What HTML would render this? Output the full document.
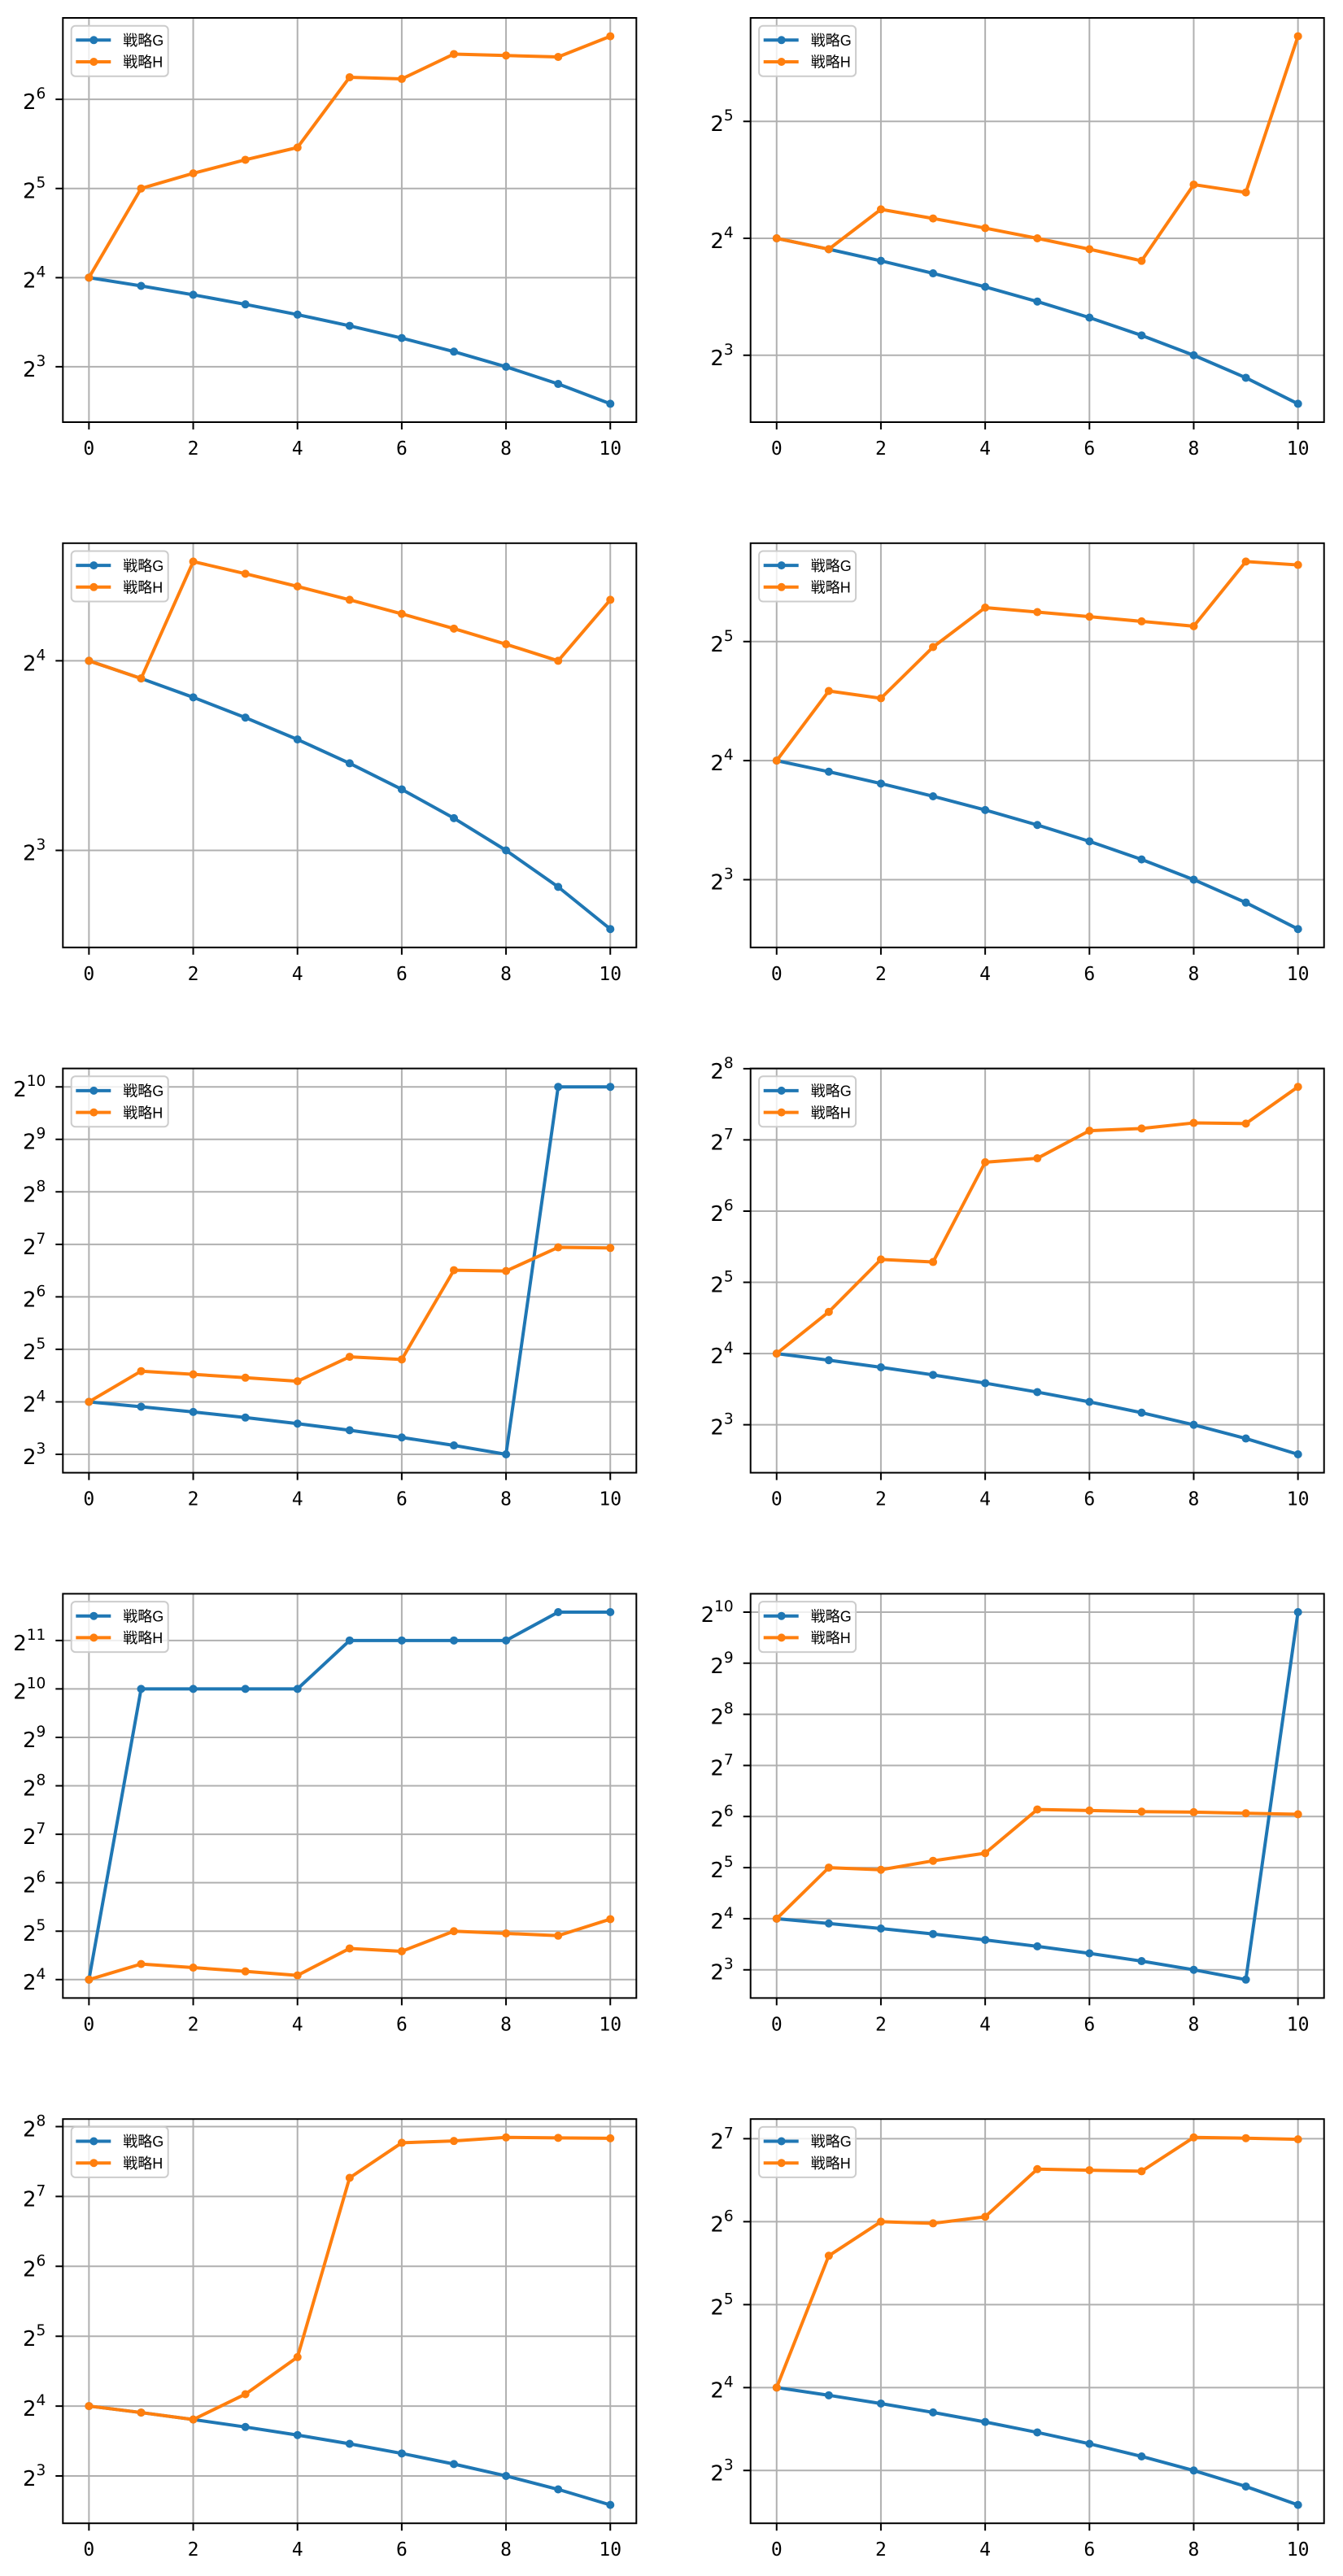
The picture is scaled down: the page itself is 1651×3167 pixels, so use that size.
<!DOCTYPE html>
<html><head><meta charset="utf-8">
<style>
html,body{margin:0;padding:0;background:#fff;}
svg{display:block;}
.g{stroke:#b0b0b0;stroke-width:2;fill:none;}
.sp{fill:none;stroke:#000;stroke-width:2;}
.tk{stroke:#000;stroke-width:2;fill:none;}
.l{fill:none;stroke-width:4;stroke-linejoin:round;stroke-linecap:round;}
.m{fill:none;stroke-width:10;stroke-linecap:round;}
.b{stroke:#1f77b4;}
.o{stroke:#ff7f0e;}
.xt text{font-family:"DejaVu Sans Mono","Liberation Mono",monospace;font-size:23px;text-anchor:middle;fill:#000;}
.yt text{font-family:"DejaVu Sans","Liberation Sans",sans-serif;font-size:26px;text-anchor:end;fill:#000;}
.yt tspan{font-size:18.5px;}
.lg text{font-family:"Liberation Sans","Noto Sans CJK JP",sans-serif;font-size:18px;fill:#000;}
</style></head>
<body>
<svg width="1651" height="3167" viewBox="0 0 1651 3167" xmlns="http://www.w3.org/2000/svg">
<rect width="1651" height="3167" fill="#fff"/>

<!-- ================= P1 (row0 col1) ================= -->
<path class="g" d="M109.35 22V519M237.53 22V519M365.71 22V519M493.89 22V519M622.07 22V519M750.25 22V519M77.3 450.92H782.3M77.3 341.32H782.3M77.3 231.72H782.3M77.3 122.12H782.3"/>
<g transform="matrix(64.09 0 0 -109.6 109.35 779.72)">
<polyline class="l b" vector-effect="non-scaling-stroke" points="0,4 1,3.9069 2,3.8074 3,3.7004 4,3.585 5,3.4594 6,3.3219 7,3.1699 8,3 9,2.8074 10,2.585"/>
<path class="m b" vector-effect="non-scaling-stroke" d="M0 4h0.001M1 3.9069h0.001M2 3.8074h0.001M3 3.7004h0.001M4 3.585h0.001M5 3.4594h0.001M6 3.3219h0.001M7 3.1699h0.001M8 3h0.001M9 2.8074h0.001M10 2.585h0.001"/>
<polyline class="l o" vector-effect="non-scaling-stroke" points="0,4 1,5 2,5.1699 3,5.3219 4,5.4594 5,6.2479 6,6.2288 7,6.5078 8,6.4919 9,6.4757 10,6.7074"/>
<path class="m o" vector-effect="non-scaling-stroke" d="M0 4h0.001M1 5h0.001M2 5.1699h0.001M3 5.3219h0.001M4 5.4594h0.001M5 6.2479h0.001M6 6.2288h0.001M7 6.5078h0.001M8 6.4919h0.001M9 6.4757h0.001M10 6.7074h0.001"/>
</g>
<g class="lg" transform="translate(77.3 22)">
<rect x="10.4" y="9.7" width="119" height="62" rx="5" fill="#fff" fill-opacity="0.8" stroke="#cccccc" stroke-width="2"/>
<line x1="16" x2="59" y1="27.3" y2="27.3" stroke="#1f77b4" stroke-width="4"/><circle cx="38" cy="27.3" r="5" fill="#1f77b4"/>
<text x="74" y="34">戦略G</text>
<line x1="16" x2="59" y1="54" y2="54" stroke="#ff7f0e" stroke-width="4"/><circle cx="38" cy="54" r="5" fill="#ff7f0e"/>
<text x="74" y="60.7">戦略H</text>
</g>
<rect class="sp" x="77.3" y="22" width="705" height="497"/>
<path class="tk" d="M109.35 519v9M237.53 519v9M365.71 519v9M493.89 519v9M622.07 519v9M750.25 519v9M68.3 450.92h9M68.3 341.32h9M68.3 231.72h9M68.3 122.12h9"/>
<g class="xt"><text x="109.35" y="559">0</text><text x="237.53" y="559">2</text><text x="365.71" y="559">4</text><text x="493.89" y="559">6</text><text x="622.07" y="559">8</text><text x="750.25" y="559">10</text></g>
<g class="yt"><text x="56.3" y="462.92">2<tspan dy="-13">3</tspan></text><text x="56.3" y="353.32">2<tspan dy="-13">4</tspan></text><text x="56.3" y="243.72">2<tspan dy="-13">5</tspan></text><text x="56.3" y="134.12">2<tspan dy="-13">6</tspan></text></g>

<!-- ================= P2 (row0 col2) ================= -->
<path class="g" d="M954.75 22V519M1082.93 22V519M1211.11 22V519M1339.29 22V519M1467.47 22V519M1595.65 22V519M922.7 436.75H1627.7M922.7 292.99H1627.7M922.7 149.23H1627.7"/>
<g transform="matrix(64.09 0 0 -143.76 954.75 868.03)">
<polyline class="l b" vector-effect="non-scaling-stroke" points="0,4 1,3.9069 2,3.8074 3,3.7004 4,3.585 5,3.4594 6,3.3219 7,3.1699 8,3 9,2.8074 10,2.585"/>
<path class="m b" vector-effect="non-scaling-stroke" d="M0 4h0.001M1 3.9069h0.001M2 3.8074h0.001M3 3.7004h0.001M4 3.585h0.001M5 3.4594h0.001M6 3.3219h0.001M7 3.1699h0.001M8 3h0.001M9 2.8074h0.001M10 2.585h0.001"/>
<polyline class="l o" vector-effect="non-scaling-stroke" points="0,4 1,3.9069 2,4.2479 3,4.1699 4,4.0875 5,4 6,3.9069 7,3.8074 8,4.4594 9,4.3923 10,5.7279"/>
<path class="m o" vector-effect="non-scaling-stroke" d="M0 4h0.001M1 3.9069h0.001M2 4.2479h0.001M3 4.1699h0.001M4 4.0875h0.001M5 4h0.001M6 3.9069h0.001M7 3.8074h0.001M8 4.4594h0.001M9 4.3923h0.001M10 5.7279h0.001"/>
</g>
<g class="lg" transform="translate(922.7 22)">
<rect x="10.4" y="9.7" width="119" height="62" rx="5" fill="#fff" fill-opacity="0.8" stroke="#cccccc" stroke-width="2"/>
<line x1="16" x2="59" y1="27.3" y2="27.3" stroke="#1f77b4" stroke-width="4"/><circle cx="38" cy="27.3" r="5" fill="#1f77b4"/>
<text x="74" y="34">戦略G</text>
<line x1="16" x2="59" y1="54" y2="54" stroke="#ff7f0e" stroke-width="4"/><circle cx="38" cy="54" r="5" fill="#ff7f0e"/>
<text x="74" y="60.7">戦略H</text>
</g>
<rect class="sp" x="922.7" y="22" width="705" height="497"/>
<path class="tk" d="M954.75 519v9M1082.93 519v9M1211.11 519v9M1339.29 519v9M1467.47 519v9M1595.65 519v9M913.7 436.75h9M913.7 292.99h9M913.7 149.23h9"/>
<g class="xt"><text x="954.75" y="559">0</text><text x="1082.93" y="559">2</text><text x="1211.11" y="559">4</text><text x="1339.29" y="559">6</text><text x="1467.47" y="559">8</text><text x="1595.65" y="559">10</text></g>
<g class="yt"><text x="901.7" y="448.75">2<tspan dy="-13">3</tspan></text><text x="901.7" y="304.99">2<tspan dy="-13">4</tspan></text><text x="901.7" y="161.23">2<tspan dy="-13">5</tspan></text></g>

<!-- ================= P3 (row1 col1) ================= -->
<path class="g" d="M109.35 667.8V1164.8M237.53 667.8V1164.8M365.71 667.8V1164.8M493.89 667.8V1164.8M622.07 667.8V1164.8M750.25 667.8V1164.8M77.3 1045.49H782.3M77.3 812.43H782.3"/>
<g transform="matrix(64.09 0 0 -233.06 109.35 1744.67)">
<polyline class="l b" vector-effect="non-scaling-stroke" points="0,4 1,3.9069 2,3.8074 3,3.7004 4,3.585 5,3.4594 6,3.3219 7,3.1699 8,3 9,2.8074 10,2.585"/>
<path class="m b" vector-effect="non-scaling-stroke" d="M0 4h0.001M1 3.9069h0.001M2 3.8074h0.001M3 3.7004h0.001M4 3.585h0.001M5 3.4594h0.001M6 3.3219h0.001M7 3.1699h0.001M8 3h0.001M9 2.8074h0.001M10 2.585h0.001"/>
<polyline class="l o" vector-effect="non-scaling-stroke" points="0,4 1,3.9069 2,4.5236 3,4.4594 4,4.3923 5,4.3219 6,4.2479 7,4.1699 8,4.0875 9,4 10,4.3219"/>
<path class="m o" vector-effect="non-scaling-stroke" d="M0 4h0.001M1 3.9069h0.001M2 4.5236h0.001M3 4.4594h0.001M4 4.3923h0.001M5 4.3219h0.001M6 4.2479h0.001M7 4.1699h0.001M8 4.0875h0.001M9 4h0.001M10 4.3219h0.001"/>
</g>
<g class="lg" transform="translate(77.3 667.8)">
<rect x="10.4" y="9.7" width="119" height="62" rx="5" fill="#fff" fill-opacity="0.8" stroke="#cccccc" stroke-width="2"/>
<line x1="16" x2="59" y1="27.3" y2="27.3" stroke="#1f77b4" stroke-width="4"/><circle cx="38" cy="27.3" r="5" fill="#1f77b4"/>
<text x="74" y="34">戦略G</text>
<line x1="16" x2="59" y1="54" y2="54" stroke="#ff7f0e" stroke-width="4"/><circle cx="38" cy="54" r="5" fill="#ff7f0e"/>
<text x="74" y="60.7">戦略H</text>
</g>
<rect class="sp" x="77.3" y="667.8" width="705" height="497"/>
<path class="tk" d="M109.35 1164.8v9M237.53 1164.8v9M365.71 1164.8v9M493.89 1164.8v9M622.07 1164.8v9M750.25 1164.8v9M68.3 1045.49h9M68.3 812.43h9"/>
<g class="xt"><text x="109.35" y="1204.8">0</text><text x="237.53" y="1204.8">2</text><text x="365.71" y="1204.8">4</text><text x="493.89" y="1204.8">6</text><text x="622.07" y="1204.8">8</text><text x="750.25" y="1204.8">10</text></g>
<g class="yt"><text x="56.3" y="1057.49">2<tspan dy="-13">3</tspan></text><text x="56.3" y="824.43">2<tspan dy="-13">4</tspan></text></g>

<!-- ================= P4 (row1 col2) ================= -->
<path class="g" d="M954.75 667.8V1164.8M1082.93 667.8V1164.8M1211.11 667.8V1164.8M1339.29 667.8V1164.8M1467.47 667.8V1164.8M1595.65 667.8V1164.8M922.7 1081.47H1627.7M922.7 935.13H1627.7M922.7 788.79H1627.7"/>
<g transform="matrix(64.09 0 0 -146.34 954.75 1520.49)">
<polyline class="l b" vector-effect="non-scaling-stroke" points="0,4 1,3.9069 2,3.8074 3,3.7004 4,3.585 5,3.4594 6,3.3219 7,3.1699 8,3 9,2.8074 10,2.585"/>
<path class="m b" vector-effect="non-scaling-stroke" d="M0 4h0.001M1 3.9069h0.001M2 3.8074h0.001M3 3.7004h0.001M4 3.585h0.001M5 3.4594h0.001M6 3.3219h0.001M7 3.1699h0.001M8 3h0.001M9 2.8074h0.001M10 2.585h0.001"/>
<polyline class="l o" vector-effect="non-scaling-stroke" points="0,4 1,4.585 2,4.5236 3,4.9542 4,5.2854 5,5.2479 6,5.2095 7,5.1699 8,5.1293 9,5.6724 10,5.6439"/>
<path class="m o" vector-effect="non-scaling-stroke" d="M0 4h0.001M1 4.585h0.001M2 4.5236h0.001M3 4.9542h0.001M4 5.2854h0.001M5 5.2479h0.001M6 5.2095h0.001M7 5.1699h0.001M8 5.1293h0.001M9 5.6724h0.001M10 5.6439h0.001"/>
</g>
<g class="lg" transform="translate(922.7 667.8)">
<rect x="10.4" y="9.7" width="119" height="62" rx="5" fill="#fff" fill-opacity="0.8" stroke="#cccccc" stroke-width="2"/>
<line x1="16" x2="59" y1="27.3" y2="27.3" stroke="#1f77b4" stroke-width="4"/><circle cx="38" cy="27.3" r="5" fill="#1f77b4"/>
<text x="74" y="34">戦略G</text>
<line x1="16" x2="59" y1="54" y2="54" stroke="#ff7f0e" stroke-width="4"/><circle cx="38" cy="54" r="5" fill="#ff7f0e"/>
<text x="74" y="60.7">戦略H</text>
</g>
<rect class="sp" x="922.7" y="667.8" width="705" height="497"/>
<path class="tk" d="M954.75 1164.8v9M1082.93 1164.8v9M1211.11 1164.8v9M1339.29 1164.8v9M1467.47 1164.8v9M1595.65 1164.8v9M913.7 1081.47h9M913.7 935.13h9M913.7 788.79h9"/>
<g class="xt"><text x="954.75" y="1204.8">0</text><text x="1082.93" y="1204.8">2</text><text x="1211.11" y="1204.8">4</text><text x="1339.29" y="1204.8">6</text><text x="1467.47" y="1204.8">8</text><text x="1595.65" y="1204.8">10</text></g>
<g class="yt"><text x="901.7" y="1093.47">2<tspan dy="-13">3</tspan></text><text x="901.7" y="947.13">2<tspan dy="-13">4</tspan></text><text x="901.7" y="800.79">2<tspan dy="-13">5</tspan></text></g>

<!-- ================= P5 (row2 col1) ================= -->
<path class="g" d="M109.35 1313.6V1810.6M237.53 1313.6V1810.6M365.71 1313.6V1810.6M493.89 1313.6V1810.6M622.07 1313.6V1810.6M750.25 1313.6V1810.6M77.3 1788.01H782.3M77.3 1723.46H782.3M77.3 1658.92H782.3M77.3 1594.37H782.3M77.3 1529.83H782.3M77.3 1465.28H782.3M77.3 1400.74H782.3M77.3 1336.19H782.3"/>
<g transform="matrix(64.09 0 0 -64.545 109.35 1981.64)">
<polyline class="l b" vector-effect="non-scaling-stroke" points="0,4 1,3.9069 2,3.8074 3,3.7004 4,3.585 5,3.4594 6,3.3219 7,3.1699 8,3 9,10 10,10"/>
<path class="m b" vector-effect="non-scaling-stroke" d="M0 4h0.001M1 3.9069h0.001M2 3.8074h0.001M3 3.7004h0.001M4 3.585h0.001M5 3.4594h0.001M6 3.3219h0.001M7 3.1699h0.001M8 3h0.001M9 10h0.001M10 10h0.001"/>
<polyline class="l o" vector-effect="non-scaling-stroke" points="0,4 1,4.585 2,4.5236 3,4.4594 4,4.3923 5,4.858 6,4.8074 7,6.5078 8,6.4919 9,6.9425 10,6.9307"/>
<path class="m o" vector-effect="non-scaling-stroke" d="M0 4h0.001M1 4.585h0.001M2 4.5236h0.001M3 4.4594h0.001M4 4.3923h0.001M5 4.858h0.001M6 4.8074h0.001M7 6.5078h0.001M8 6.4919h0.001M9 6.9425h0.001M10 6.9307h0.001"/>
</g>
<g class="lg" transform="translate(77.3 1313.6)">
<rect x="10.4" y="9.7" width="119" height="62" rx="5" fill="#fff" fill-opacity="0.8" stroke="#cccccc" stroke-width="2"/>
<line x1="16" x2="59" y1="27.3" y2="27.3" stroke="#1f77b4" stroke-width="4"/><circle cx="38" cy="27.3" r="5" fill="#1f77b4"/>
<text x="74" y="34">戦略G</text>
<line x1="16" x2="59" y1="54" y2="54" stroke="#ff7f0e" stroke-width="4"/><circle cx="38" cy="54" r="5" fill="#ff7f0e"/>
<text x="74" y="60.7">戦略H</text>
</g>
<rect class="sp" x="77.3" y="1313.6" width="705" height="497"/>
<path class="tk" d="M109.35 1810.6v9M237.53 1810.6v9M365.71 1810.6v9M493.89 1810.6v9M622.07 1810.6v9M750.25 1810.6v9M68.3 1788.01h9M68.3 1723.46h9M68.3 1658.92h9M68.3 1594.37h9M68.3 1529.83h9M68.3 1465.28h9M68.3 1400.74h9M68.3 1336.19h9"/>
<g class="xt"><text x="109.35" y="1850.6">0</text><text x="237.53" y="1850.6">2</text><text x="365.71" y="1850.6">4</text><text x="493.89" y="1850.6">6</text><text x="622.07" y="1850.6">8</text><text x="750.25" y="1850.6">10</text></g>
<g class="yt"><text x="56.3" y="1800.01">2<tspan dy="-13">3</tspan></text><text x="56.3" y="1735.46">2<tspan dy="-13">4</tspan></text><text x="56.3" y="1670.92">2<tspan dy="-13">5</tspan></text><text x="56.3" y="1606.37">2<tspan dy="-13">6</tspan></text><text x="56.3" y="1541.83">2<tspan dy="-13">7</tspan></text><text x="56.3" y="1477.28">2<tspan dy="-13">8</tspan></text><text x="56.3" y="1412.74">2<tspan dy="-13">9</tspan></text><text x="56.3" y="1348.19">2<tspan dy="-13">10</tspan></text></g>

<!-- ================= P6 (row2 col2) ================= -->
<path class="g" d="M954.75 1313.6V1810.6M1082.93 1313.6V1810.6M1211.11 1313.6V1810.6M1339.29 1313.6V1810.6M1467.47 1313.6V1810.6M1595.65 1313.6V1810.6M922.7 1751.67H1627.7M922.7 1664.11H1627.7M922.7 1576.55H1627.7M922.7 1488.99H1627.7M922.7 1401.43H1627.7M922.7 1313.86H1627.7"/>
<g transform="matrix(64.09 0 0 -87.562 954.75 2014.36)">
<polyline class="l b" vector-effect="non-scaling-stroke" points="0,4 1,3.9069 2,3.8074 3,3.7004 4,3.585 5,3.4594 6,3.3219 7,3.1699 8,3 9,2.8074 10,2.585"/>
<path class="m b" vector-effect="non-scaling-stroke" d="M0 4h0.001M1 3.9069h0.001M2 3.8074h0.001M3 3.7004h0.001M4 3.585h0.001M5 3.4594h0.001M6 3.3219h0.001M7 3.1699h0.001M8 3h0.001M9 2.8074h0.001M10 2.585h0.001"/>
<polyline class="l o" vector-effect="non-scaling-stroke" points="0,4 1,4.585 2,5.3219 3,5.2854 4,6.6865 5,6.7415 6,7.1293 7,7.1599 8,7.2384 9,7.2288 10,7.745"/>
<path class="m o" vector-effect="non-scaling-stroke" d="M0 4h0.001M1 4.585h0.001M2 5.3219h0.001M3 5.2854h0.001M4 6.6865h0.001M5 6.7415h0.001M6 7.1293h0.001M7 7.1599h0.001M8 7.2384h0.001M9 7.2288h0.001M10 7.745h0.001"/>
</g>
<g class="lg" transform="translate(922.7 1313.6)">
<rect x="10.4" y="9.7" width="119" height="62" rx="5" fill="#fff" fill-opacity="0.8" stroke="#cccccc" stroke-width="2"/>
<line x1="16" x2="59" y1="27.3" y2="27.3" stroke="#1f77b4" stroke-width="4"/><circle cx="38" cy="27.3" r="5" fill="#1f77b4"/>
<text x="74" y="34">戦略G</text>
<line x1="16" x2="59" y1="54" y2="54" stroke="#ff7f0e" stroke-width="4"/><circle cx="38" cy="54" r="5" fill="#ff7f0e"/>
<text x="74" y="60.7">戦略H</text>
</g>
<rect class="sp" x="922.7" y="1313.6" width="705" height="497"/>
<path class="tk" d="M954.75 1810.6v9M1082.93 1810.6v9M1211.11 1810.6v9M1339.29 1810.6v9M1467.47 1810.6v9M1595.65 1810.6v9M913.7 1751.67h9M913.7 1664.11h9M913.7 1576.55h9M913.7 1488.99h9M913.7 1401.43h9M913.7 1313.86h9"/>
<g class="xt"><text x="954.75" y="1850.6">0</text><text x="1082.93" y="1850.6">2</text><text x="1211.11" y="1850.6">4</text><text x="1339.29" y="1850.6">6</text><text x="1467.47" y="1850.6">8</text><text x="1595.65" y="1850.6">10</text></g>
<g class="yt"><text x="901.7" y="1763.67">2<tspan dy="-13">3</tspan></text><text x="901.7" y="1676.11">2<tspan dy="-13">4</tspan></text><text x="901.7" y="1588.55">2<tspan dy="-13">5</tspan></text><text x="901.7" y="1500.99">2<tspan dy="-13">6</tspan></text><text x="901.7" y="1413.43">2<tspan dy="-13">7</tspan></text><text x="901.7" y="1325.86">2<tspan dy="-13">8</tspan></text></g>

<!-- ================= P7 (row3 col1) ================= -->
<path class="g" d="M109.35 1959.4V2456.4M237.53 1959.4V2456.4M365.71 1959.4V2456.4M493.89 1959.4V2456.4M622.07 1959.4V2456.4M750.25 1959.4V2456.4M77.3 2433.8H782.3M77.3 2374.24H782.3M77.3 2314.67H782.3M77.3 2255.1H782.3M77.3 2195.54H782.3M77.3 2135.97H782.3M77.3 2076.4H782.3M77.3 2016.83H782.3"/>
<g transform="matrix(64.09 0 0 -59.567 109.35 2672.07)">
<polyline class="l b" vector-effect="non-scaling-stroke" points="0,4 1,10 2,10 3,10 4,10 5,11 6,11 7,11 8,11 9,11.585 10,11.585"/>
<path class="m b" vector-effect="non-scaling-stroke" d="M0 4h0.001M1 10h0.001M2 10h0.001M3 10h0.001M4 10h0.001M5 11h0.001M6 11h0.001M7 11h0.001M8 11h0.001M9 11.585h0.001M10 11.585h0.001"/>
<polyline class="l o" vector-effect="non-scaling-stroke" points="0,4 1,4.3219 2,4.2479 3,4.1699 4,4.0875 5,4.6439 6,4.585 7,5 8,4.9542 9,4.9069 10,5.2479"/>
<path class="m o" vector-effect="non-scaling-stroke" d="M0 4h0.001M1 4.3219h0.001M2 4.2479h0.001M3 4.1699h0.001M4 4.0875h0.001M5 4.6439h0.001M6 4.585h0.001M7 5h0.001M8 4.9542h0.001M9 4.9069h0.001M10 5.2479h0.001"/>
</g>
<g class="lg" transform="translate(77.3 1959.4)">
<rect x="10.4" y="9.7" width="119" height="62" rx="5" fill="#fff" fill-opacity="0.8" stroke="#cccccc" stroke-width="2"/>
<line x1="16" x2="59" y1="27.3" y2="27.3" stroke="#1f77b4" stroke-width="4"/><circle cx="38" cy="27.3" r="5" fill="#1f77b4"/>
<text x="74" y="34">戦略G</text>
<line x1="16" x2="59" y1="54" y2="54" stroke="#ff7f0e" stroke-width="4"/><circle cx="38" cy="54" r="5" fill="#ff7f0e"/>
<text x="74" y="60.7">戦略H</text>
</g>
<rect class="sp" x="77.3" y="1959.4" width="705" height="497"/>
<path class="tk" d="M109.35 2456.4v9M237.53 2456.4v9M365.71 2456.4v9M493.89 2456.4v9M622.07 2456.4v9M750.25 2456.4v9M68.3 2433.8h9M68.3 2374.24h9M68.3 2314.67h9M68.3 2255.1h9M68.3 2195.54h9M68.3 2135.97h9M68.3 2076.4h9M68.3 2016.83h9"/>
<g class="xt"><text x="109.35" y="2496.4">0</text><text x="237.53" y="2496.4">2</text><text x="365.71" y="2496.4">4</text><text x="493.89" y="2496.4">6</text><text x="622.07" y="2496.4">8</text><text x="750.25" y="2496.4">10</text></g>
<g class="yt"><text x="56.3" y="2445.8">2<tspan dy="-13">4</tspan></text><text x="56.3" y="2386.24">2<tspan dy="-13">5</tspan></text><text x="56.3" y="2326.67">2<tspan dy="-13">6</tspan></text><text x="56.3" y="2267.1">2<tspan dy="-13">7</tspan></text><text x="56.3" y="2207.54">2<tspan dy="-13">8</tspan></text><text x="56.3" y="2147.97">2<tspan dy="-13">9</tspan></text><text x="56.3" y="2088.4">2<tspan dy="-13">10</tspan></text><text x="56.3" y="2028.83">2<tspan dy="-13">11</tspan></text></g>

<!-- ================= P8 (row3 col2) ================= -->
<path class="g" d="M954.75 1959.4V2456.4M1082.93 1959.4V2456.4M1211.11 1959.4V2456.4M1339.29 1959.4V2456.4M1467.47 1959.4V2456.4M1595.65 1959.4V2456.4M922.7 2421.71H1627.7M922.7 2358.89H1627.7M922.7 2296.08H1627.7M922.7 2233.26H1627.7M922.7 2170.44H1627.7M922.7 2107.62H1627.7M922.7 2044.81H1627.7M922.7 1981.99H1627.7"/>
<g transform="matrix(64.09 0 0 -62.817 954.75 2610.16)">
<polyline class="l b" vector-effect="non-scaling-stroke" points="0,4 1,3.9069 2,3.8074 3,3.7004 4,3.585 5,3.4594 6,3.3219 7,3.1699 8,3 9,2.8074 10,10"/>
<path class="m b" vector-effect="non-scaling-stroke" d="M0 4h0.001M1 3.9069h0.001M2 3.8074h0.001M3 3.7004h0.001M4 3.585h0.001M5 3.4594h0.001M6 3.3219h0.001M7 3.1699h0.001M8 3h0.001M9 2.8074h0.001M10 10h0.001"/>
<polyline class="l o" vector-effect="non-scaling-stroke" points="0,4 1,5 2,4.957 3,5.133 4,5.282 5,6.138 6,6.117 7,6.096 8,6.085 9,6.064 10,6.043"/>
<path class="m o" vector-effect="non-scaling-stroke" d="M0 4h0.001M1 5h0.001M2 4.957h0.001M3 5.133h0.001M4 5.282h0.001M5 6.138h0.001M6 6.117h0.001M7 6.096h0.001M8 6.085h0.001M9 6.064h0.001M10 6.043h0.001"/>
</g>
<g class="lg" transform="translate(922.7 1959.4)">
<rect x="10.4" y="9.7" width="119" height="62" rx="5" fill="#fff" fill-opacity="0.8" stroke="#cccccc" stroke-width="2"/>
<line x1="16" x2="59" y1="27.3" y2="27.3" stroke="#1f77b4" stroke-width="4"/><circle cx="38" cy="27.3" r="5" fill="#1f77b4"/>
<text x="74" y="34">戦略G</text>
<line x1="16" x2="59" y1="54" y2="54" stroke="#ff7f0e" stroke-width="4"/><circle cx="38" cy="54" r="5" fill="#ff7f0e"/>
<text x="74" y="60.7">戦略H</text>
</g>
<rect class="sp" x="922.7" y="1959.4" width="705" height="497"/>
<path class="tk" d="M954.75 2456.4v9M1082.93 2456.4v9M1211.11 2456.4v9M1339.29 2456.4v9M1467.47 2456.4v9M1595.65 2456.4v9M913.7 2421.71h9M913.7 2358.89h9M913.7 2296.08h9M913.7 2233.26h9M913.7 2170.44h9M913.7 2107.62h9M913.7 2044.81h9M913.7 1981.99h9"/>
<g class="xt"><text x="954.75" y="2496.4">0</text><text x="1082.93" y="2496.4">2</text><text x="1211.11" y="2496.4">4</text><text x="1339.29" y="2496.4">6</text><text x="1467.47" y="2496.4">8</text><text x="1595.65" y="2496.4">10</text></g>
<g class="yt"><text x="901.7" y="2433.71">2<tspan dy="-13">3</tspan></text><text x="901.7" y="2370.89">2<tspan dy="-13">4</tspan></text><text x="901.7" y="2308.08">2<tspan dy="-13">5</tspan></text><text x="901.7" y="2245.26">2<tspan dy="-13">6</tspan></text><text x="901.7" y="2182.44">2<tspan dy="-13">7</tspan></text><text x="901.7" y="2119.62">2<tspan dy="-13">8</tspan></text><text x="901.7" y="2056.81">2<tspan dy="-13">9</tspan></text><text x="901.7" y="1993.99">2<tspan dy="-13">10</tspan></text></g>

<!-- ================= P9 (row4 col1) ================= -->
<path class="g" d="M109.35 2605.2V3102.2M237.53 2605.2V3102.2M365.71 2605.2V3102.2M493.89 2605.2V3102.2M622.07 2605.2V3102.2M750.25 2605.2V3102.2M77.3 3043.96H782.3M77.3 2958.07H782.3M77.3 2872.19H782.3M77.3 2786.3H782.3M77.3 2700.41H782.3M77.3 2614.52H782.3"/>
<g transform="matrix(64.09 0 0 -85.889 109.35 3301.63)">
<polyline class="l b" vector-effect="non-scaling-stroke" points="0,4 1,3.9069 2,3.8074 3,3.7004 4,3.585 5,3.4594 6,3.3219 7,3.1699 8,3 9,2.8074 10,2.585"/>
<path class="m b" vector-effect="non-scaling-stroke" d="M0 4h0.001M1 3.9069h0.001M2 3.8074h0.001M3 3.7004h0.001M4 3.585h0.001M5 3.4594h0.001M6 3.3219h0.001M7 3.1699h0.001M8 3h0.001M9 2.8074h0.001M10 2.585h0.001"/>
<polyline class="l o" vector-effect="non-scaling-stroke" points="0,4 1,3.9069 2,3.8074 3,4.1699 4,4.7004 5,7.2668 6,7.7682 7,7.7944 8,7.8455 9,7.8392 10,7.8329"/>
<path class="m o" vector-effect="non-scaling-stroke" d="M0 4h0.001M1 3.9069h0.001M2 3.8074h0.001M3 4.1699h0.001M4 4.7004h0.001M5 7.2668h0.001M6 7.7682h0.001M7 7.7944h0.001M8 7.8455h0.001M9 7.8392h0.001M10 7.8329h0.001"/>
</g>
<g class="lg" transform="translate(77.3 2605.2)">
<rect x="10.4" y="9.7" width="119" height="62" rx="5" fill="#fff" fill-opacity="0.8" stroke="#cccccc" stroke-width="2"/>
<line x1="16" x2="59" y1="27.3" y2="27.3" stroke="#1f77b4" stroke-width="4"/><circle cx="38" cy="27.3" r="5" fill="#1f77b4"/>
<text x="74" y="34">戦略G</text>
<line x1="16" x2="59" y1="54" y2="54" stroke="#ff7f0e" stroke-width="4"/><circle cx="38" cy="54" r="5" fill="#ff7f0e"/>
<text x="74" y="60.7">戦略H</text>
</g>
<rect class="sp" x="77.3" y="2605.2" width="705" height="497"/>
<path class="tk" d="M109.35 3102.2v9M237.53 3102.2v9M365.71 3102.2v9M493.89 3102.2v9M622.07 3102.2v9M750.25 3102.2v9M68.3 3043.96h9M68.3 2958.07h9M68.3 2872.19h9M68.3 2786.3h9M68.3 2700.41h9M68.3 2614.52h9"/>
<g class="xt"><text x="109.35" y="3142.2">0</text><text x="237.53" y="3142.2">2</text><text x="365.71" y="3142.2">4</text><text x="493.89" y="3142.2">6</text><text x="622.07" y="3142.2">8</text><text x="750.25" y="3142.2">10</text></g>
<g class="yt"><text x="56.3" y="3055.96">2<tspan dy="-13">3</tspan></text><text x="56.3" y="2970.07">2<tspan dy="-13">4</tspan></text><text x="56.3" y="2884.19">2<tspan dy="-13">5</tspan></text><text x="56.3" y="2798.3">2<tspan dy="-13">6</tspan></text><text x="56.3" y="2712.41">2<tspan dy="-13">7</tspan></text><text x="56.3" y="2626.52">2<tspan dy="-13">8</tspan></text></g>

<!-- ================= P10 (row4 col2) ================= -->
<path class="g" d="M954.75 2605.2V3102.2M1082.93 2605.2V3102.2M1211.11 2605.2V3102.2M1339.29 2605.2V3102.2M1467.47 2605.2V3102.2M1595.65 2605.2V3102.2M922.7 3037.3H1627.7M922.7 2935.33H1627.7M922.7 2833.37H1627.7M922.7 2731.4H1627.7M922.7 2629.43H1627.7"/>
<g transform="matrix(64.09 0 0 -101.967 954.75 3343.2)">
<polyline class="l b" vector-effect="non-scaling-stroke" points="0,4 1,3.9069 2,3.8074 3,3.7004 4,3.585 5,3.4594 6,3.3219 7,3.1699 8,3 9,2.8074 10,2.585"/>
<path class="m b" vector-effect="non-scaling-stroke" d="M0 4h0.001M1 3.9069h0.001M2 3.8074h0.001M3 3.7004h0.001M4 3.585h0.001M5 3.4594h0.001M6 3.3219h0.001M7 3.1699h0.001M8 3h0.001M9 2.8074h0.001M10 2.585h0.001"/>
<polyline class="l o" vector-effect="non-scaling-stroke" points="0,4 1,5.589 2,6 3,5.98 4,6.059 5,6.634 6,6.621 7,6.608 8,7.016 9,7.007 10,6.993"/>
<path class="m o" vector-effect="non-scaling-stroke" d="M0 4h0.001M1 5.589h0.001M2 6h0.001M3 5.98h0.001M4 6.059h0.001M5 6.634h0.001M6 6.621h0.001M7 6.608h0.001M8 7.016h0.001M9 7.007h0.001M10 6.993h0.001"/>
</g>
<g class="lg" transform="translate(922.7 2605.2)">
<rect x="10.4" y="9.7" width="119" height="62" rx="5" fill="#fff" fill-opacity="0.8" stroke="#cccccc" stroke-width="2"/>
<line x1="16" x2="59" y1="27.3" y2="27.3" stroke="#1f77b4" stroke-width="4"/><circle cx="38" cy="27.3" r="5" fill="#1f77b4"/>
<text x="74" y="34">戦略G</text>
<line x1="16" x2="59" y1="54" y2="54" stroke="#ff7f0e" stroke-width="4"/><circle cx="38" cy="54" r="5" fill="#ff7f0e"/>
<text x="74" y="60.7">戦略H</text>
</g>
<rect class="sp" x="922.7" y="2605.2" width="705" height="497"/>
<path class="tk" d="M954.75 3102.2v9M1082.93 3102.2v9M1211.11 3102.2v9M1339.29 3102.2v9M1467.47 3102.2v9M1595.65 3102.2v9M913.7 3037.3h9M913.7 2935.33h9M913.7 2833.37h9M913.7 2731.4h9M913.7 2629.43h9"/>
<g class="xt"><text x="954.75" y="3142.2">0</text><text x="1082.93" y="3142.2">2</text><text x="1211.11" y="3142.2">4</text><text x="1339.29" y="3142.2">6</text><text x="1467.47" y="3142.2">8</text><text x="1595.65" y="3142.2">10</text></g>
<g class="yt"><text x="901.7" y="3049.3">2<tspan dy="-13">3</tspan></text><text x="901.7" y="2947.33">2<tspan dy="-13">4</tspan></text><text x="901.7" y="2845.37">2<tspan dy="-13">5</tspan></text><text x="901.7" y="2743.4">2<tspan dy="-13">6</tspan></text><text x="901.7" y="2641.43">2<tspan dy="-13">7</tspan></text></g>

</svg>
</body></html>
